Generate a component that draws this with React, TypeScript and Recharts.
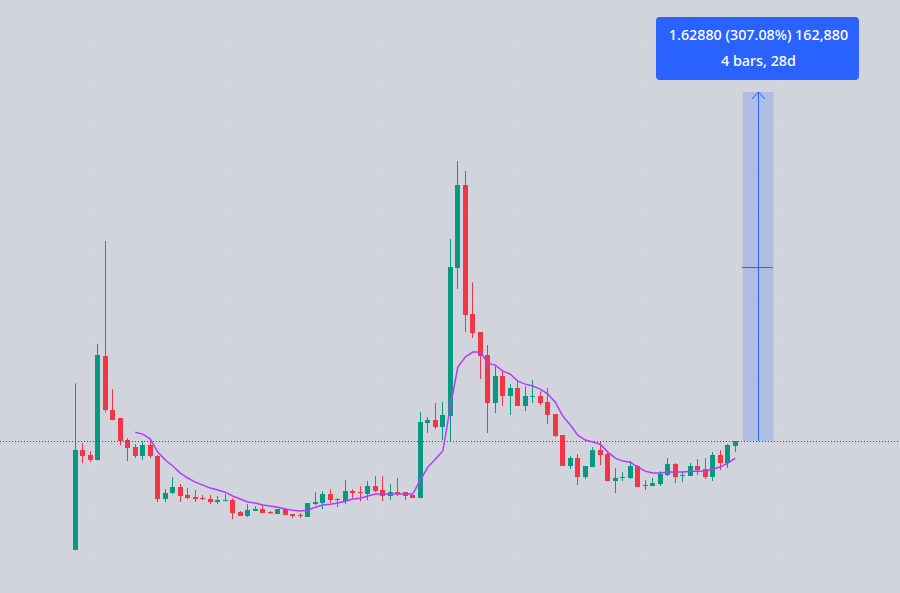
import { Bar, CartesianGrid, ComposedChart, Line, ReferenceArea, ReferenceDot, ReferenceLine, XAxis, YAxis } from "recharts";

const opens = [
  0.022, 0.488, 0.465, 0.442, 0.927, 0.675, 0.638, 0.535, 0.502, 0.46, 0.512, 0.46, 0.26, 0.288, 0.316, 0.278, 0.269, 0.264,
  0.26, 0.246, 0.25, 0.255, 0.199, 0.18, 0.204, 0.213, 0.199, 0.19, 0.213, 0.19, 0.185, 0.176, 0.236, 0.241, 0.283, 0.26,
  0.25, 0.297, 0.292, 0.283, 0.32, 0.302, 0.274, 0.292, 0.292, 0.278, 0.264, 0.614, 0.628, 0.596, 0.647, 1.338, 1.725, 1.123,
  1.039, 0.932, 0.708, 0.834, 0.74, 0.778, 0.694, 0.736, 0.74, 0.712, 0.656, 0.558, 0.414, 0.451, 0.362, 0.409, 0.488, 0.47,
  0.344, 0.358, 0.358, 0.414, 0.32, 0.32, 0.33, 0.372, 0.423, 0.367, 0.367, 0.414, 0.4, 0.362, 0.465, 0.428, 0.507,
];
const closes = [
  0.488, 0.46, 0.442, 0.932, 0.675, 0.628, 0.53, 0.498, 0.46, 0.512, 0.46, 0.26, 0.288, 0.316, 0.274, 0.264, 0.26, 0.26,
  0.246, 0.255, 0.255, 0.194, 0.18, 0.208, 0.213, 0.194, 0.194, 0.213, 0.185, 0.18, 0.182, 0.241, 0.246, 0.283, 0.255, 0.255,
  0.297, 0.288, 0.288, 0.32, 0.297, 0.274, 0.292, 0.283, 0.274, 0.264, 0.619, 0.628, 0.596, 0.652, 1.342, 1.725, 1.118, 1.035,
  0.927, 0.708, 0.834, 0.74, 0.778, 0.694, 0.74, 0.74, 0.708, 0.652, 0.554, 0.414, 0.451, 0.362, 0.414, 0.488, 0.465, 0.344,
  0.358, 0.362, 0.414, 0.316, 0.325, 0.334, 0.376, 0.423, 0.362, 0.372, 0.414, 0.395, 0.362, 0.465, 0.428, 0.512, 0.53,
];
const highs = [
  0.8, 0.521, 0.484, 0.983, 1.464, 0.773, 0.638, 0.544, 0.516, 0.53, 0.526, 0.465, 0.306, 0.362, 0.33, 0.311, 0.302, 0.278,
  0.278, 0.274, 0.283, 0.264, 0.204, 0.236, 0.227, 0.232, 0.204, 0.213, 0.218, 0.19, 0.194, 0.241, 0.292, 0.297, 0.306, 0.264,
  0.348, 0.306, 0.32, 0.344, 0.367, 0.367, 0.33, 0.358, 0.292, 0.278, 0.666, 0.642, 0.708, 0.712, 1.473, 1.837, 1.79, 1.272,
  1.039, 0.978, 0.88, 0.857, 0.796, 0.81, 0.787, 0.815, 0.764, 0.778, 0.656, 0.558, 0.46, 0.47, 0.414, 0.502, 0.526, 0.484,
  0.404, 0.386, 0.437, 0.418, 0.348, 0.358, 0.39, 0.451, 0.428, 0.386, 0.428, 0.446, 0.451, 0.479, 0.488, 0.516, 0.53,
];
const lows = [
  0.022, 0.428, 0.432, 0.439, 0.664, 0.628, 0.512, 0.437, 0.451, 0.442, 0.451, 0.246, 0.246, 0.283, 0.246, 0.26, 0.246, 0.255,
  0.236, 0.236, 0.25, 0.166, 0.18, 0.176, 0.204, 0.194, 0.19, 0.19, 0.185, 0.171, 0.171, 0.176, 0.232, 0.213, 0.241, 0.222,
  0.236, 0.264, 0.25, 0.255, 0.292, 0.25, 0.255, 0.274, 0.255, 0.264, 0.264, 0.568, 0.586, 0.535, 0.526, 1.24, 1.039, 1.011,
  0.82, 0.568, 0.661, 0.694, 0.652, 0.694, 0.67, 0.708, 0.698, 0.61, 0.549, 0.414, 0.4, 0.325, 0.353, 0.409, 0.418, 0.344,
  0.288, 0.344, 0.353, 0.316, 0.302, 0.32, 0.32, 0.367, 0.334, 0.339, 0.367, 0.372, 0.353, 0.344, 0.395, 0.404, 0.479,
];
const movingAverage = [
  null, null, null, null, null, null, null, null, 0.572, 0.563, 0.54, 0.479, 0.442, 0.414, 0.381, 0.358, 0.339, 0.325,
  0.311, 0.302, 0.292, 0.274, 0.26, 0.246, 0.241, 0.232, 0.227, 0.222, 0.213, 0.208, 0.204, 0.208, 0.222, 0.232, 0.236, 0.241,
  0.25, 0.26, 0.264, 0.274, 0.283, 0.283, 0.283, 0.283, 0.283, 0.283, 0.348, 0.409, 0.446, 0.484, 0.689, 0.876, 0.923, 0.946,
  0.946, 0.894, 0.885, 0.857, 0.843, 0.81, 0.796, 0.787, 0.773, 0.75, 0.712, 0.647, 0.605, 0.558, 0.535, 0.526, 0.516, 0.479,
  0.451, 0.437, 0.432, 0.409, 0.39, 0.381, 0.381, 0.386, 0.386, 0.386, 0.39, 0.39, 0.39, 0.4, 0.409, 0.428, 0.451,
];

const priceGrid = [0, 0.2, 0.4, 0.6, 0.8, 1, 1.2, 1.4, 1.6, 1.8, 2, 2.2, 2.4];
const barGrid = [2, 20, 41, 59, 76, 94];

const measureStartBar = 89;
const measureEndBar = 93.1;
const measureMidBar = 91.09;
const measureFrom = 0.5304;
const measureTo = 2.1592;
const measureMid = 1.3403;
const lastPrice = 0.5284;
const measureLines = ["1.62880 (307.08%) 162,880", "4 bars, 28d"];

const UP = "#089981";
const DOWN = "#f23645";
const BLUE = "#2962ff";

const candles = opens.map((open, i) => ({
  bar: i,
  open,
  close: closes[i],
  range: [lows[i], highs[i]],
  ma: movingAverage[i],
}));

const Candle = ({ x, y, width, height, payload }: any) => {
  const { open, close, range } = payload;
  const perPrice = height / (range[1] - range[0]);
  const bodyTop = Math.round(y + (range[1] - Math.max(open, close)) * perPrice);
  const bodyBottom = Math.round(y + (range[1] - Math.min(open, close)) * perPrice);
  const color = close >= open ? UP : DOWN;
  const center = x + width / 2;
  return (
    <g fill={color}>
      <rect x={Math.floor(center)} y={y} width={1} height={height} />
      <rect x={Math.floor(center) - 2} y={bodyTop} width={5} height={Math.max(bodyBottom - bodyTop, 1)} />
    </g>
  );
};

const ArrowHead = ({ cx, cy }: any) => (
  <path d={`M${cx - 6.5} ${cy + 7}L${cx} ${cy}L${cx + 6.5} ${cy + 7}`} fill="none" stroke={BLUE} strokeWidth={1} />
);

const MeasureLabel = ({ cx, cy }: any) => (
  <g fontFamily="'Noto Sans', sans-serif" fontSize={14.3} fontWeight={500} fill="#fff" textAnchor="middle">
    <rect x={cx - 102.5} y={cy - 75} width={203} height={63} rx={4} fill={BLUE} />
    <text x={cx} y={cy - 52}>{measureLines[0]}</text>
    <text x={cx} y={cy - 26}>{measureLines[1]}</text>
  </g>
);

export default function App() {
  return (
    <div style={{ width: 900, height: 593, background: "#d1d4dc" }}>
      <style>{"body{margin:0}"}</style>
      <ComposedChart width={900} height={593} data={candles} margin={{ top: 0, right: 0, bottom: 0, left: 0 }}>
        <CartesianGrid stroke="#d3d6de" horizontalValues={priceGrid} verticalValues={barGrid} />
        <XAxis dataKey="bar" type="number" domain={[-10.04, 109.96]} allowDataOverflow hide />
        <YAxis type="number" domain={[-0.1785, 2.5885]} allowDataOverflow hide />
        <ReferenceLine y={lastPrice} stroke="#05705f" strokeDasharray="1 2" />
        <ReferenceArea x1={measureStartBar} x2={measureEndBar} y1={measureFrom} y2={measureTo} fill={BLUE} fillOpacity={0.2} stroke="none" />
        <Bar dataKey="range" barSize={5} shape={Candle} isAnimationActive={false} />
        <Line dataKey="ma" stroke="#b33bff" strokeWidth={1.5} dot={false} type="linear" isAnimationActive={false} />
        <ReferenceLine segment={[{ x: measureStartBar - 0.13, y: measureMid }, { x: measureEndBar - 0.13, y: measureMid }]} stroke={BLUE} />
        <ReferenceLine segment={[{ x: measureMidBar, y: measureFrom }, { x: measureMidBar, y: measureTo }]} stroke={BLUE} />
        <ReferenceDot x={measureMidBar} y={measureTo} shape={ArrowHead} />
        <ReferenceDot x={measureMidBar} y={measureTo} shape={MeasureLabel} />
      </ComposedChart>
    </div>
  );
}
